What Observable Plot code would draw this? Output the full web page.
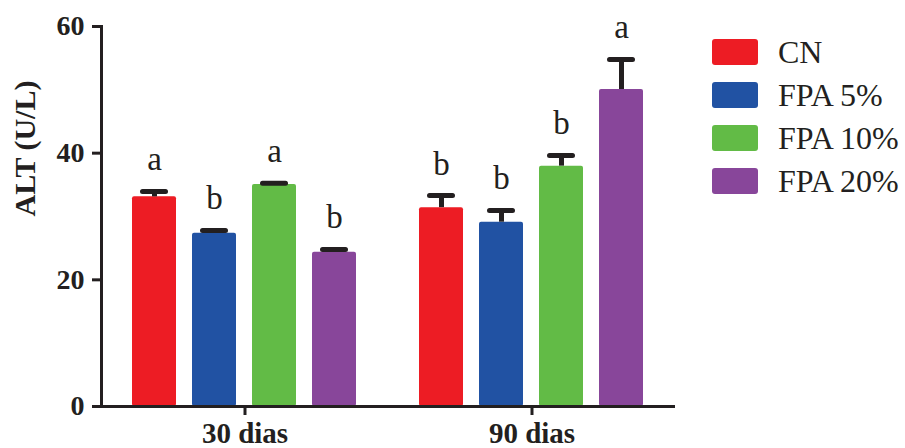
<!DOCTYPE html>
<html>
<head>
<meta charset="utf-8">
<script src="https://cdn.jsdelivr.net/npm/d3@7"></script>
<script src="https://cdn.jsdelivr.net/npm/@observablehq/plot@0.6"></script>
<style>
  html, body { margin: 0; padding: 0; background: #fff; }
  #wrap { position: relative; width: 905px; height: 448px; overflow: hidden; }
  #legend { position: absolute; left: 712px; top: 39px; font-family: "Liberation Serif", "Times New Roman", serif; color: #231f20; }
  .row { display: flex; align-items: center; height: 26px; margin-bottom: 17px; }
  .sw { width: 46px; height: 26px; border-radius: 3px; margin-right: 20px; }
  .lb { font-size: 32px; line-height: 26px; white-space: nowrap; }
</style>
</head>
<body>
<div id="wrap"></div>
<script>
const groups = ["30 dias", "90 dias"];
const series = ["CN", "FPA 5%", "FPA 10%", "FPA 20%"];
const colors = ["#ED1C24", "#2152A3", "#62BB46", "#88469A"];
const means30 = [33.1, 27.35, 35.05, 24.35];
const errs30 = [0.85, 0.45, 0.2, 0.45];
const means90 = [31.4, 29.1, 37.95, 50.05];
const errs90 = [1.9, 1.85, 1.7, 4.75];
const letters30 = ["a", "b", "a", "b"];
const letters90 = ["b", "b", "b", "a"];
const yTicks = [0, 20, 40, 60];
const yLabel = "ALT (U/L)";

const data = [];
series.forEach((s, i) => {
  data.push({group: groups[0], series: s, mean: means30[i], err: errs30[i], letter: letters30[i]});
});
series.forEach((s, i) => {
  data.push({group: groups[1], series: s, mean: means90[i], err: errs90[i], letter: letters90[i]});
});
const errTop = d => d.mean + d.err;
const ink = "#231f20";
const serif = "Liberation Serif";

const chart = Plot.plot({
  width: 905,
  height: 448,
  marginLeft: 100,
  marginRight: 230,
  marginTop: 26,
  marginBottom: 42,
  style: {fontFamily: serif, color: ink, background: "white", overflow: "visible"},
  fx: {domain: groups, padding: 0, label: null},
  x: {domain: series, paddingInner: 0.26, paddingOuter: 0.49, axis: null},
  y: {domain: [0, 60], axis: null},
  color: {domain: series, range: colors},
  marks: [
    Plot.barY(data, {fx: "group", x: "series", y: "mean", fill: "series", rx: 2}),
    Plot.ruleX(data, {fx: "group", x: "series", y1: "mean", y2: errTop, stroke: ink, strokeWidth: 5}),
    Plot.tickY(data, {fx: "group", x: "series", y: errTop, stroke: ink, strokeWidth: 5, insetLeft: 10.5, insetRight: 10.5, strokeLinecap: "round"}),
    Plot.text(data, {fx: "group", x: "series", y: errTop, text: "letter", lineAnchor: "bottom", dy: -21, fontSize: 33, fontFamily: serif, fill: ink}),
    Plot.ruleY([0], {stroke: ink, strokeWidth: 3}),
    Plot.frame({anchor: "left", facetAnchor: "left", stroke: ink, strokeWidth: 3}),
    Plot.axisY({ticks: yTicks, tickSize: 9, tickPadding: 8, strokeWidth: 3, fontSize: 28, fontWeight: "bold", fontFamily: serif, label: null, facetAnchor: "left", stroke: ink, fill: ink}),
    Plot.axisFx({anchor: "bottom", tickSize: 9, tickPadding: 7, strokeWidth: 3, fontSize: 29, fontWeight: "bold", fontFamily: serif, label: null, stroke: ink, fill: ink}),
    Plot.text([yLabel], {frameAnchor: "left", facetAnchor: "left", rotate: -90, dx: -76, fontSize: 30, fontWeight: "bold", fontFamily: serif, fill: ink})
  ]
});
const wrap = document.getElementById("wrap");
wrap.appendChild(chart);

const legend = document.createElement("div");
legend.id = "legend";
series.forEach((s, i) => {
  const row = document.createElement("div");
  row.className = "row";
  const sw = document.createElement("div");
  sw.className = "sw";
  sw.style.background = colors[i];
  const lb = document.createElement("div");
  lb.className = "lb";
  lb.textContent = s;
  row.appendChild(sw);
  row.appendChild(lb);
  legend.appendChild(row);
});
wrap.appendChild(legend);
</script>
</body>
</html>
